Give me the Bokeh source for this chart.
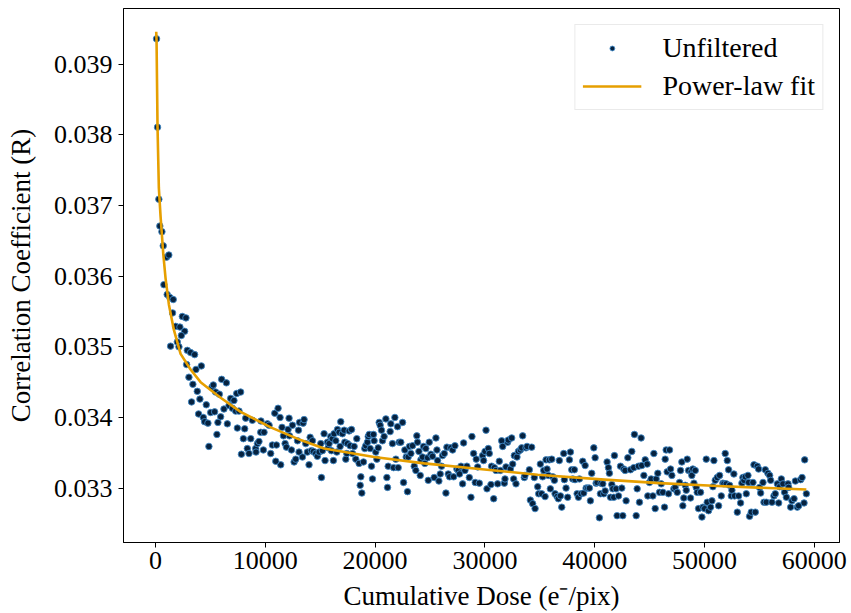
from bokeh.plotting import figure
from bokeh.models import Range1d, PrintfTickFormatter, Legend, LegendItem
from bokeh.embed import file_html
from bokeh.resources import INLINE

# ---- data ----
dose_early = [90, 180, 300, 390, 580, 700, 1000, 1210, 760, 1060, 1300, 1610, 1550, 2440, 2770, 1830, 2220, 2650, 2350,
              1370, 1980, 2130, 2890, 3190, 3560, 2830, 3680, 4170, 3040, 6020]
corr_early = [0.03936, 0.03811, 0.03709, 0.03671, 0.03663, 0.03643, 0.03627, 0.03630, 0.03588, 0.03574, 0.03570, 0.03567,
              0.03548, 0.03543, 0.03541, 0.03529, 0.03528, 0.03522, 0.03516, 0.03501, 0.03507, 0.03500, 0.03495, 0.03492,
              0.03489, 0.03475, 0.03468, 0.03473, 0.03457, 0.03454]

dose_a = [3400, 3800, 4040, 3280, 4620, 5140, 5260, 5470, 5810, 6450, 3920, 4350, 4470, 4770, 5020, 5380, 5680, 5930, 5590,
          4860, 6230, 6540, 6690, 6840, 7140, 7390, 7750, 7000, 7300, 7600, 7450, 8120, 8210, 8000, 8670, 8360, 8510, 7820,
          8820, 9120, 9280, 9150, 9420, 9580, 9820, 9600, 9880, 10190, 10340, 10640, 10490, 11010, 10860, 11160, 11340,
          11520, 11800, 11920, 12070, 12160, 12380, 12470, 12620, 12770, 11400, 10950, 11650, 12200, 13020, 12930, 13110]
corr_a = [0.03447, 0.03437, 0.03426, 0.03422, 0.03418, 0.03443, 0.03446, 0.03436, 0.03433, 0.03449, 0.03405, 0.03400,
          0.03394, 0.03392, 0.03407, 0.03408, 0.03393, 0.03401, 0.03376, 0.03359, 0.03412, 0.03391, 0.03417, 0.03427,
          0.03424, 0.03434, 0.03436, 0.03413, 0.03409, 0.03409, 0.03385, 0.03384, 0.03399, 0.03370, 0.03370, 0.03356,
          0.03349, 0.03348, 0.03396, 0.03356, 0.03363, 0.03351, 0.03366, 0.03379, 0.03354, 0.03395, 0.03379, 0.03391,
          0.03389, 0.03361, 0.03349, 0.03361, 0.03406, 0.03413, 0.03400, 0.03386, 0.03363, 0.03358, 0.03383, 0.03399,
          0.03354, 0.03389, 0.03337, 0.03341, 0.03333, 0.03338, 0.03374, 0.03374, 0.03382, 0.03367, 0.03393]

dose_b = [13440, 13530, 13070, 13380, 13680, 13830, 13980, 14080, 14290, 14200, 14380, 14590, 14740, 14900, 15050, 15110,
          15200, 15350, 15440, 15660, 15720, 15810, 15960, 16020, 16110, 16200, 16260, 16420, 16510, 16570, 16720, 16810,
          16870, 17020, 17180, 17240, 17330, 17420, 17480, 17630, 17720, 17850, 17940, 18090, 18240, 18330, 18540, 18640,
          18700, 18790, 18940, 19060, 19150, 19300, 19370, 19460, 19550, 19670, 19760, 19850, 19910, 20060, 20160, 20280,
          20370, 20460, 20580, 20670, 20820, 20980, 21070, 21130, 21190, 21370, 21430, 21580, 21680, 21800, 21890, 22040,
          22100, 22190, 22340, 22500, 22590, 22710, 22830, 22950, 23010, 23130, 23260, 23410, 23560, 23710, 23800, 23860,
          23990, 24110, 24170, 24320, 24410, 24530, 24620, 24780, 24840, 24930, 25080, 25230, 25380, 25540, 25630, 25690,
          25810, 25930, 26050, 26140, 26300, 26450, 26540, 26660, 26780, 26900, 27060, 27150, 27270, 27450, 27570, 27690,
          27820, 27970, 28060, 28180, 28360, 28580, 28730, 28820, 28970, 29120, 29210, 29340, 29490]
corr_b = [0.03392, 0.03397, 0.03351, 0.03344, 0.03363, 0.03351, 0.03333, 0.03372, 0.03367, 0.03353, 0.03352, 0.03349,
          0.03345, 0.03351, 0.03363, 0.03315, 0.03353, 0.03377, 0.03339, 0.03365, 0.03357, 0.03363, 0.03373, 0.03353,
          0.03370, 0.03339, 0.03377, 0.03367, 0.03351, 0.03383, 0.03379, 0.03359, 0.03394, 0.03377, 0.03382, 0.03365,
          0.03341, 0.03349, 0.03363, 0.03381, 0.03360, 0.03383, 0.03349, 0.03359, 0.03341, 0.03370, 0.03335, 0.03304,
          0.03316, 0.03293, 0.03337, 0.03356, 0.03360, 0.03365, 0.03373, 0.03376, 0.03356, 0.03331, 0.03313, 0.03376,
          0.03367, 0.03351, 0.03341, 0.03357, 0.03393, 0.03389, 0.03382, 0.03367, 0.03373, 0.03398, 0.03315, 0.03301,
          0.03331, 0.03380, 0.03391, 0.03363, 0.03329, 0.03400, 0.03341, 0.03387, 0.03329, 0.03365, 0.03365, 0.03393,
          0.03308, 0.03354, 0.03344, 0.03295, 0.03344, 0.03359, 0.03349, 0.03360, 0.03331, 0.03325, 0.03374, 0.03365,
          0.03352, 0.03318, 0.03340, 0.03344, 0.03359, 0.03335, 0.03356, 0.03343, 0.03311, 0.03365, 0.03348, 0.03345,
          0.03315, 0.03371, 0.03354, 0.03339, 0.03310, 0.03320, 0.03331, 0.03346, 0.03349, 0.03293, 0.03358, 0.03320,
          0.03316, 0.03357, 0.03354, 0.03316, 0.03360, 0.03327, 0.03325, 0.03320, 0.03331, 0.03306, 0.03364, 0.03325,
          0.03331, 0.03315, 0.03287, 0.03373, 0.03349, 0.03308, 0.03341, 0.03330, 0.03307]

dose_c = [29790, 29880, 30010, 30100, 30190, 30310, 30400, 30550, 30610, 30800, 30860, 31010, 31160, 31310, 31400, 31530,
          31620, 31770, 31830, 31920, 32070, 32130, 32320, 32440, 32530, 32620, 32680, 32830, 32920, 33050, 33230, 33350,
          33440, 33590, 33650, 33740, 33840, 34050, 34140, 34260, 34350, 34500, 34570, 34810, 34900, 35050, 35170, 35260,
          35360, 35480, 35570, 35660, 35780, 35870, 35960, 36090, 36180, 36330, 36390, 36570, 36690, 36780, 36880, 37000,
          37180, 37240, 37390, 37540, 37700, 37790, 37910, 38000, 38150, 38210, 38400, 38520, 38610, 38760, 38910, 39000,
          39130, 39220, 39370, 39520, 39610, 39730, 39920, 40040, 40130, 40220, 40430, 40520, 40580, 40740, 40830, 40950,
          41130, 41250, 41340, 41440, 41560, 41650, 41740, 41800, 41950, 42040, 42170, 42350, 42470, 42560, 42650, 42770,
          42860, 43020, 43260, 43380, 43560, 43620, 43780, 43870, 43990, 44080, 44230, 44290, 44480, 44600, 44780, 44840,
          44990, 45140, 45300, 45390, 45510, 45600, 45750, 45900]
corr_c = [0.03346, 0.03339, 0.03352, 0.03382, 0.03299, 0.03356, 0.03349, 0.03305, 0.03331, 0.03285, 0.03329, 0.03325,
          0.03306, 0.03338, 0.03325, 0.03367, 0.03359, 0.03307, 0.03313, 0.03330, 0.03365, 0.03368, 0.03327, 0.03371,
          0.03334, 0.03313, 0.03346, 0.03306, 0.03344, 0.03352, 0.03354, 0.03357, 0.03374, 0.03315, 0.03318, 0.03357,
          0.03359, 0.03326, 0.03283, 0.03358, 0.03278, 0.03315, 0.03271, 0.03302, 0.03292, 0.03334, 0.03292, 0.03316,
          0.03325, 0.03288, 0.03340, 0.03327, 0.03318, 0.03340, 0.03299, 0.03341, 0.03316, 0.03311, 0.03292, 0.03288,
          0.03285, 0.03339, 0.03289, 0.03273, 0.03349, 0.03312, 0.03300, 0.03287, 0.03340, 0.03351, 0.03326, 0.03313,
          0.03326, 0.03312, 0.03292, 0.03287, 0.03313, 0.03292, 0.03338, 0.03293, 0.03332, 0.03300, 0.03300, 0.03300,
          0.03282, 0.03321, 0.03357, 0.03343, 0.03307, 0.03308, 0.03258, 0.03292, 0.03307, 0.03306, 0.03292, 0.03296,
          0.03337, 0.03329, 0.03321, 0.03287, 0.03305, 0.03299, 0.03287, 0.03346, 0.03299, 0.03261, 0.03289, 0.03331,
          0.03300, 0.03261, 0.03327, 0.03325, 0.03282, 0.03343, 0.03326, 0.03352, 0.03329, 0.03376, 0.03261, 0.03299,
          0.03331, 0.03280, 0.03371, 0.03332, 0.03318, 0.03340, 0.03334, 0.03289, 0.03308, 0.03313, 0.03289, 0.03349,
          0.03271, 0.03313, 0.03321, 0.03294]

dose_d = [46060, 46210, 46360, 46420, 46510, 46600, 46730, 46820, 46910, 47030, 47210, 47330, 47520, 47730, 47820, 47940,
          48030, 48120, 48250, 48340, 48430, 48550, 48730, 48790, 48850, 48940, 49040, 49160, 49250, 49340, 49460, 49640,
          49770, 49860, 50010, 50160, 50250, 50370, 50560, 50680, 50770, 50860, 50980, 51160, 51290, 51380, 51530, 51680,
          51770, 51890, 51980, 52080, 52200, 52290, 52440, 52500, 52680, 52740, 52990, 53110, 53290, 53410, 53500, 53600,
          53720, 53810, 53960, 54020, 54110, 54260, 54420, 54510, 54630, 54810, 54930, 55020, 55120, 55330, 55420, 55540,
          55630, 55780, 55940, 56030, 56150, 56330, 56450, 56640, 56760, 56850, 57000, 57150, 57300, 57460, 57610, 57670,
          57850, 57970, 58160, 58280, 58460, 58580, 58760, 58890, 59070, 59130, 59280]
corr_d = [0.03306, 0.03294, 0.03273, 0.03341, 0.03354, 0.03323, 0.03292, 0.03354, 0.03327, 0.03318, 0.03299, 0.03301,
          0.03294, 0.03308, 0.03325, 0.03337, 0.03275, 0.03286, 0.03304, 0.03297, 0.03341, 0.03325, 0.03286, 0.03323,
          0.03318, 0.03327, 0.03307, 0.03325, 0.03301, 0.03294, 0.03271, 0.03294, 0.03259, 0.03273, 0.03271, 0.03341,
          0.03280, 0.03268, 0.03273, 0.03282, 0.03302, 0.03339, 0.03311, 0.03315, 0.03275, 0.03318, 0.03289, 0.03307,
          0.03306, 0.03349, 0.03306, 0.03339, 0.03326, 0.03304, 0.03289, 0.03297, 0.03320, 0.03289, 0.03266, 0.03289,
          0.03279, 0.03307, 0.03315, 0.03311, 0.03316, 0.03292, 0.03318, 0.03308, 0.03260, 0.03266, 0.03308, 0.03333,
          0.03266, 0.03331, 0.03327, 0.03301, 0.03293, 0.03308, 0.03280, 0.03326, 0.03280, 0.03321, 0.03318, 0.03311,
          0.03280, 0.03289, 0.03292, 0.03306, 0.03279, 0.03302, 0.03313, 0.03306, 0.03294, 0.03287, 0.03306, 0.03301,
          0.03273, 0.03282, 0.03285, 0.03310, 0.03273, 0.03275, 0.03312, 0.03315, 0.03279, 0.03340, 0.03292]

fit_dose = [60, 90, 180, 300, 455, 700, 912, 1213, 1670, 2280, 3192, 4104, 5928, 7752, 10488, 13224, 15350, 19910,
            24470, 29490, 34810, 40890, 45900, 51230, 59280]
fit_corr = [0.03946, 0.03934, 0.03811, 0.03725, 0.03685, 0.03632, 0.03597, 0.03560, 0.03524, 0.03490, 0.03468,
            0.03450, 0.03428, 0.03408, 0.03386, 0.03368, 0.03356, 0.03344, 0.03335, 0.03327, 0.03319, 0.03312,
            0.03307, 0.03303, 0.03298]

x_ticks = [0, 10000, 20000, 30000, 40000, 50000, 60000]
y_ticks = [0.033, 0.034, 0.035, 0.036, 0.037, 0.038, 0.039]

dose = dose_early + dose_a + dose_b + dose_c + dose_d
corr = corr_early + corr_a + corr_b + corr_c + corr_d

SERIF = "Liberation Serif"
FS = "26px"

W, H = 851, 613

p = figure(width=W, height=H, output_backend="svg", toolbar_location=None,
           x_range=Range1d(-2920, 62300), y_range=Range1d(0.03223, 0.03979),
           min_border_left=123, min_border_right=12, min_border_top=8, min_border_bottom=71)
p.background_fill_color = "white"
p.border_fill_color = "white"
p.outline_line_color = "black"
p.outline_line_width = 1
p.grid.visible = False

for ax in (p.xaxis[0], p.yaxis[0]):
    ax.major_label_text_font = SERIF
    ax.major_label_text_font_size = FS
    ax.major_label_text_color = "black"
    ax.axis_label_text_font = SERIF
    ax.axis_label_text_font_size = "27px"
    ax.axis_label_text_font_style = "normal"
    ax.axis_label_text_color = "black"
    ax.major_tick_out = 5
    ax.major_tick_in = 0
    ax.minor_tick_out = 0
    ax.minor_tick_in = 0
    ax.axis_line_color = "black"
    ax.major_tick_line_color = "black"

p.xaxis.ticker = x_ticks
p.yaxis.ticker = y_ticks
p.xaxis.formatter = PrintfTickFormatter(format="%d")
p.yaxis.formatter = PrintfTickFormatter(format="%.3f")
p.xaxis.major_label_standoff = 4
p.yaxis.major_label_standoff = 6
p.xaxis.axis_label = "Cumulative Dose (e\u207b/pix)"
p.yaxis.axis_label = "Correlation Coefficient (R)"
p.xaxis.axis_label_standoff = 9
p.yaxis.axis_label_standoff = 15

sc = p.scatter(dose, corr, size=6.5, fill_color="#06223f", line_color="#3f88c5", line_width=0.9)
ln = p.line(fit_dose, fit_corr, line_color="#E69F00", line_width=2.6, line_join="round")

legend = Legend(items=[LegendItem(label="Unfiltered", renderers=[sc]),
                       LegendItem(label="Power-law fit", renderers=[ln])],
                location="top_right")
legend.label_text_font = SERIF
legend.label_text_font_size = "28px"
legend.label_text_color = "black"
legend.glyph_width = 59
legend.glyph_height = 12
legend.label_standoff = 21
legend.padding = 7
legend.spacing = 6
legend.margin = 16
legend.border_line_color = "#d5d5d5"
legend.border_line_width = 1
legend.background_fill_alpha = 0.85
p.add_layout(legend)

open("out.html", "w").write(file_html(p, INLINE))
